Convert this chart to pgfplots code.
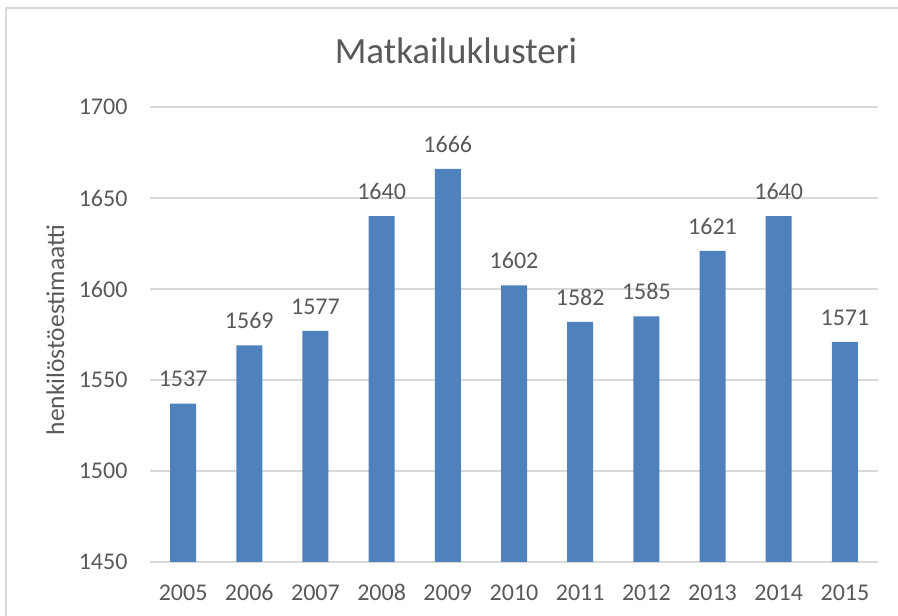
\documentclass[border=0pt]{standalone}
\usepackage{pgfplots}
\pgfplotsset{compat=1.18}
\usepackage{fontspec}
\setmainfont[Numbers=Lining]{Carlito}
\definecolor{barblue}{HTML}{4F81BD}
\definecolor{txt}{HTML}{595959}
\definecolor{grid}{HTML}{D9D9D9}
\begin{document}
\begin{tikzpicture}[x=1pt,y=1pt]
\useasboundingbox (0,0) rectangle (898,616);
\draw[color=grid, line width=2pt] (6,-20) rectangle (940,608);
\node[text=txt, font=\fontsize{37}{44}\selectfont, anchor=base] at (456,552) {Matkailuklusteri};
\node[text=txt, font=\fontsize{25.5}{31}\selectfont, rotate=90, anchor=base] at (64,286) {henkilöstöestimaatti};
\begin{axis}[
  at={(150pt,54pt)}, anchor=south west,
  scale only axis, width=728pt, height=455pt,
  xmin=-0.5, xmax=10.5, ymin=1450, ymax=1700,
  ytick={1450,1500,...,1700},
  xtick={0,...,10},
  xticklabels={2005,2006,2007,2008,2009,2010,2011,2012,2013,2014,2015},
  axis line style={draw=none},
  major tick length=0pt,
  ymajorgrids, grid style={color=grid, line width=1.2pt},
  tick label style={text=txt, font=\fontsize{24}{29}\selectfont},
  /pgf/number format/assume math mode=true,
  /pgf/number format/set thousands separator={},
  yticklabel style={xshift=-19pt},
  xticklabel style={yshift=-19pt},
  nodes near coords,
  nodes near coords style={text=txt, font=\fontsize{24}{29}\selectfont, yshift=13pt},
  clip=false,
]
\addplot[ybar, bar width=26pt, fill=barblue, draw=none] coordinates {
(0,1537) (1,1569) (2,1577) (3,1640) (4,1666) (5,1602) (6,1582) (7,1585) (8,1621) (9,1640) (10,1571)};
\end{axis}
\end{tikzpicture}
\end{document}
